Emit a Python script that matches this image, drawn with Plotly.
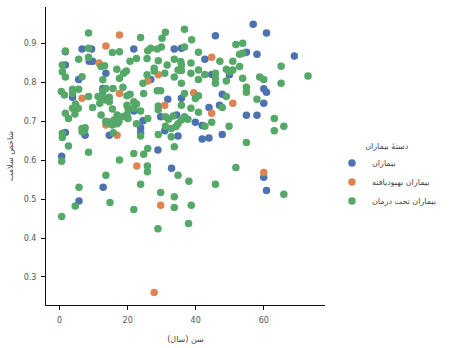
import plotly.graph_objects as go

# Patient groups (series names) and the legend heading
group_title = "دستهٔ بیماران"
group_names = ["بیماران", "بیماران بهبودیافته", "بیماران تحت درمان"]
group_colors = ["#4C72B0", "#DD8452", "#55A868"]

x_title = "سن (سال)"
y_title = "شاخص سلامت"

# Group 1
blue_x = [6.6, 9.4, 1.7, 21.8, 33.7, 35.8, 8.7, 9.7, 1.7, 13.6, 5.6, 26.8, 3.8, 12.7,
          31.8, 35.8, 21.8, 29.7, 34.4, 24.5, 23.8, 30.9, 1.7, 7.5, 14.6, 23.8, 34.8,
          0.6, 28.9, 32.9, 12.8, 5.7, 56.9, 60.8, 45.8, 42.7, 54.9, 58.0, 69.0, 44.7,
          49.9, 60.0, 60.8, 47.8, 60.0, 43.9, 47.0, 54.9, 58.0, 39.9, 41.9, 41.9, 43.9,
          47.8, 60.0, 60.8]
blue_y = [0.885, 0.885, 0.878, 0.885, 0.885, 0.887, 0.854, 0.854, 0.844, 0.823, 0.807,
          0.807, 0.761, 0.784, 0.756, 0.759, 0.726, 0.711, 0.716, 0.701, 0.683, 0.675,
          0.671, 0.664, 0.664, 0.670, 0.662, 0.610, 0.626, 0.579, 0.530, 0.495, 0.949,
          0.926, 0.919, 0.859, 0.877, 0.872, 0.867, 0.820, 0.819, 0.783, 0.774, 0.769,
          0.746, 0.735, 0.741, 0.715, 0.715, 0.697, 0.689, 0.654, 0.657, 0.666, 0.556,
          0.522]

# Group 2
orange_x = [17.6, 13.6, 11.6, 29.0, 25.9, 17.6, 39.4, 6.6, 30.9, 13.6, 16.9, 22.7,
            29.7, 27.8, 44.7, 50.9, 44.7, 60.0]
orange_y = [0.921, 0.893, 0.849, 0.819, 0.803, 0.771, 0.773, 0.759, 0.741, 0.690,
            0.664, 0.585, 0.484, 0.260, 0.864, 0.746, 0.720, 0.568]

# Group 3
green_x = [8.5, 23.8, 31.1, 36.7, 30.1, 38.8, 8.5, 1.7, 15.5, 17.6, 25.9, 26.8, 28.7,
           29.9, 36.7, 5.6, 8.5, 22.6, 25.7, 29.0, 33.7, 35.6, 35.8, 38.6, 12.2, 13.2,
           0.8, 20.7, 31.6, 16.8, 19.6, 18.8, 27.8, 27.8, 30.9, 34.8, 35.8, 38.6, 0.8,
           1.7, 6.6, 12.7, 17.6, 25.7, 24.5, 33.7, 35.8, 0.5, 1.4, 3.8, 3.8, 5.6, 13.6,
           12.7, 15.7, 18.6, 19.8, 20.7, 24.7, 28.7, 29.7, 11.3, 12.7, 14.6, 8.5, 11.8,
           13.6, 14.6, 21.8, 22.6, 19.8, 35.8, 4.7, 3.8, 5.5, 9.7, 15.5, 20.1, 21.8,
           23.8, 29.0, 29.0, 38.6, 1.7, 4.5, 12.2, 16.9, 18.4, 19.8, 20.1, 16.0, 17.4,
           14.6, 13.6, 31.1, 32.0, 33.4, 25.9, 35.8, 36.7, 37.7, 2.6, 13.9, 15.5, 16.9,
           22.6, 31.1, 32.8, 34.2, 34.8, 6.6, 7.5, 7.3, 6.6, 0.8, 0.8, 15.8, 23.8, 29.0,
           32.8, 2.6, 33.7, 25.9, 8.5, 0.6, 17.6, 21.8, 24.7, 25.8, 25.8, 34.8, 38.0,
           13.6, 23.8, 5.7, 29.7, 33.7, 4.6, 14.8, 33.7, 38.7, 21.8, 0.6, 28.9, 37.9,
           51.8, 53.8, 40.8, 47.1, 52.9, 53.8, 50.9, 40.8, 42.7, 45.8, 45.8, 49.0, 49.9,
           50.9, 52.9, 49.0, 40.8, 45.8, 53.8, 58.8, 60.0, 65.1, 65.1, 73.0, 54.9, 54.9,
           39.9, 40.8, 49.0, 58.0, 47.8, 40.8, 63.1, 42.7, 44.7, 49.8, 65.9, 63.1, 54.9,
           51.8, 65.9, 45.8, 36.7]
green_y = [0.926, 0.915, 0.928, 0.936, 0.913, 0.909, 0.887, 0.880, 0.876, 0.878, 0.881,
           0.887, 0.885, 0.890, 0.890, 0.859, 0.864, 0.861, 0.861, 0.855, 0.859, 0.853,
           0.844, 0.849, 0.840, 0.842, 0.844, 0.854, 0.844, 0.833, 0.829, 0.823, 0.836,
           0.829, 0.823, 0.831, 0.830, 0.823, 0.827, 0.813, 0.814, 0.806, 0.810, 0.819,
           0.797, 0.813, 0.797, 0.776, 0.767, 0.782, 0.771, 0.782, 0.784, 0.776, 0.784,
           0.787, 0.765, 0.769, 0.771, 0.778, 0.778, 0.763, 0.763, 0.761, 0.763, 0.746,
           0.754, 0.750, 0.750, 0.744, 0.741, 0.741, 0.744, 0.733, 0.733, 0.735, 0.731,
           0.733, 0.733, 0.726, 0.739, 0.729, 0.733, 0.720, 0.718, 0.716, 0.716, 0.711,
           0.717, 0.707, 0.703, 0.698, 0.698, 0.700, 0.711, 0.705, 0.713, 0.707, 0.703,
           0.711, 0.705, 0.707, 0.696, 0.690, 0.693, 0.693, 0.687, 0.681, 0.686, 0.693,
           0.681, 0.683, 0.675, 0.673, 0.669, 0.658, 0.670, 0.662, 0.666, 0.660, 0.636,
           0.634, 0.630, 0.620, 0.597, 0.600, 0.617, 0.615, 0.585, 0.570, 0.561, 0.546,
           0.561, 0.538, 0.530, 0.517, 0.506, 0.482, 0.491, 0.478, 0.484, 0.473, 0.455,
           0.424, 0.437, 0.897, 0.900, 0.877, 0.854, 0.872, 0.874, 0.854, 0.831, 0.820,
           0.823, 0.810, 0.833, 0.827, 0.831, 0.840, 0.803, 0.807, 0.797, 0.810, 0.813,
           0.807, 0.841, 0.797, 0.816, 0.787, 0.774, 0.758, 0.765, 0.763, 0.756, 0.735,
           0.723, 0.707, 0.687, 0.697, 0.687, 0.687, 0.675, 0.645, 0.581, 0.512, 0.538,
           0.771]

x_ticks = [0, 20, 40, 60]
y_ticks = [0.3, 0.4, 0.5, 0.6, 0.7, 0.8, 0.9]

FONT = "DejaVu Sans"

fig = go.Figure()
for name, color, xs, ys in zip(group_names, group_colors,
                               [blue_x, orange_x, green_x],
                               [blue_y, orange_y, green_y]):
    fig.add_trace(go.Scatter(
        x=xs, y=ys, mode="markers", name=name,
        marker=dict(color=color, size=7.5, line=dict(width=0)),
    ))

axis_common = dict(
    showgrid=False, zeroline=False, showline=True, linecolor="#111",
    linewidth=1, ticks="outside", ticklen=4, tickcolor="#111",
    ticklabelstandoff=3,
    tickfont=dict(family=FONT, size=8, color="#555"),
)

fig.update_layout(
    width=449, height=348,
    margin=dict(l=46, r=114, t=7, b=43),
    plot_bgcolor="white", paper_bgcolor="white",
    font=dict(family=FONT, size=8, color="#444"),
    xaxis=dict(range=[-4, 78], tickvals=x_ticks, title=dict(text=x_title, standoff=12,
               font=dict(size=8)), **axis_common),
    yaxis=dict(range=[0.228, 0.993], tickvals=y_ticks, tickformat=".1f",
               title=dict(text=y_title, standoff=8, font=dict(size=8)), **axis_common),
    legend=dict(
        title=dict(text=group_title, side="top center", font=dict(size=8)),
        x=1.025, y=0.56, xanchor="left", yanchor="top",
        font=dict(size=8), itemsizing="trace", bgcolor="rgba(0,0,0,0)",
    ),
)

fig.write_html("out.html")
